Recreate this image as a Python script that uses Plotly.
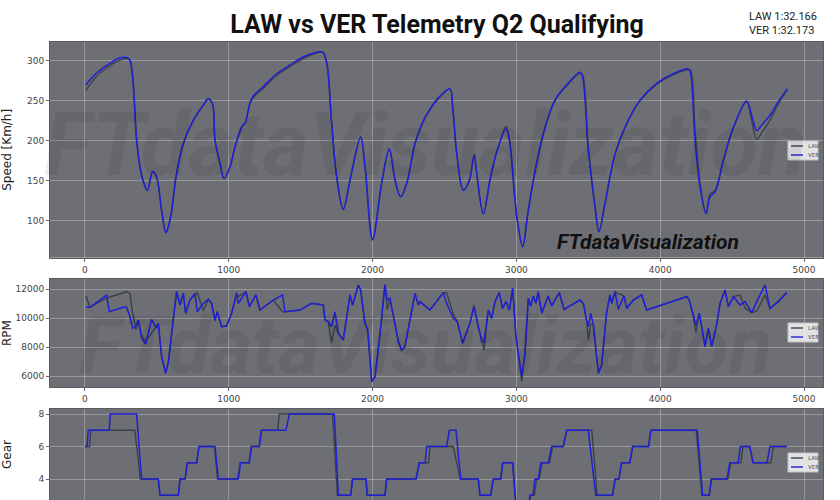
import plotly.graph_objects as go

# ---------------- data ----------------
speed_dist = [5, 81, 174, 243, 294, 313, 359, 378, 406, 434,
              471, 498, 533, 563, 596, 633, 684, 753, 823, 858,
              888, 904, 939, 967, 1008, 1043, 1096, 1113, 1159, 1240,
              1333, 1426, 1518, 1611, 1653, 1681, 1715, 1750, 1796, 1843,
              1917, 1947, 2000, 2063, 2116, 2156, 2195, 2237, 2295, 2340,
              2399, 2469, 2538, 2557, 2585, 2631, 2673, 2707, 2724, 2770,
              2816, 2863, 2928, 2951, 2990, 3006, 3044, 3076, 3118, 3187,
              3268, 3350, 3442, 3460, 3500, 3547, 3574, 3616, 3686, 3767,
              3860, 3976, 4091, 4196, 4212, 4242, 4277, 4319, 4346, 4381,
              4439, 4509, 4601, 4636, 4671, 4706, 4763, 4821, 4884]
ver_speed = [270, 285, 297, 304, 304, 301, 201, 172, 149, 138,
             162, 155, 113, 85, 105, 155, 197, 226, 245, 253,
             245, 201, 172, 153, 167, 192, 220, 222, 253, 268,
             284, 295, 305, 311, 311, 297, 222, 155, 114, 151,
             205, 168, 76, 147, 190, 151, 130, 147, 197, 220,
             240, 256, 265, 242, 184, 138, 151, 181, 159, 109,
             151, 186, 215, 201, 126, 101, 67, 105, 151, 209,
             251, 270, 286, 280, 188, 117, 86, 122, 184, 222,
             251, 272, 284, 290, 284, 201, 142, 109, 130, 136,
             176, 217, 250, 232, 213, 220, 232, 249, 265]
law_speed = [263, 281, 294, 301, 303, 301, 203, 172, 149, 138,
             161, 154, 113, 86, 105, 154, 196, 225, 244, 252,
             246, 203, 172, 153, 167, 192, 218, 222, 251, 266,
             282, 293, 303, 310, 311, 299, 225, 156, 115, 150,
             204, 170, 77, 146, 189, 152, 130, 146, 196, 219,
             239, 255, 265, 244, 186, 139, 150, 184, 160, 109,
             150, 186, 218, 203, 128, 101, 68, 104, 150, 208,
             250, 269, 285, 283, 192, 118, 87, 121, 183, 221,
             250, 271, 283, 289, 288, 215, 148, 110, 133, 138,
             174, 216, 249, 225, 202, 210, 226, 246, 264]

rpm_dist = [7, 35, 151, 169, 266, 290, 313, 331, 355, 371,
            394, 422, 464, 498, 510, 533, 561, 579, 603, 637,
            661, 684, 700, 730, 765, 781, 823, 858, 881, 904,
            920, 950, 985, 1020, 1055, 1066, 1120, 1143, 1189, 1217,
            1310, 1374, 1391, 1495, 1576, 1657, 1669, 1692, 1715, 1738,
            1762, 1796, 1843, 1861, 1901, 1917, 1947, 1966, 1994, 2017,
            2051, 2086, 2102, 2121, 2179, 2202, 2225, 2272, 2295, 2318,
            2330, 2399, 2492, 2515, 2561, 2589, 2626, 2677, 2705, 2735,
            2759, 2775, 2805, 2828, 2851, 2881, 2904, 2928, 2951, 2974,
            2997, 3037, 3060, 3083, 3099, 3118, 3136, 3152, 3176, 3222,
            3245, 3298, 3331, 3442, 3465, 3488, 3500, 3517, 3535, 3570,
            3593, 3628, 3651, 3663, 3686, 3709, 3748, 3767, 3813, 3871,
            3906, 4184, 4202, 4226, 4249, 4272, 4312, 4335, 4358, 4392,
            4416, 4451, 4474, 4509, 4555, 4590, 4636, 4671, 4694, 4729,
            4763, 4821, 4879]
ver_rpm = [10760, 10760, 11600, 10450, 10760, 10760, 10110, 9310, 9470, 9880,
           8620, 8230, 9930, 9310, 9650, 7350, 6210, 6900, 8970, 11830,
           10920, 11720, 10350, 11260, 11720, 10450, 11030, 11310, 11030, 9880,
           10450, 9420, 9470, 10350, 11770, 11030, 11830, 10800, 11610, 10570,
           11260, 11610, 10450, 10570, 11030, 10920, 9880, 9770, 9420, 10450,
           8970, 8500, 11610, 10920, 12300, 11950, 9650, 9190, 5630, 5970,
           8850, 12300, 11260, 11380, 8390, 7810, 8040, 10570, 11720, 10920,
           11150, 10570, 11770, 11030, 10000, 9770, 8280, 9650, 10800, 9420,
           8390, 8390, 10570, 10000, 11150, 11770, 10690, 11150, 10570, 12070,
           8730, 6020, 7590, 11380, 10850, 11540, 11030, 11830, 10350, 11540,
           10850, 11770, 10620, 11260, 11030, 9880, 9420, 10350, 9540, 6210,
           6780, 10450, 11610, 11030, 11830, 10620, 11540, 10690, 11260, 11610,
           10570, 11490, 11260, 10350, 9540, 10350, 8040, 9310, 8040, 9540,
           11030, 11950, 10800, 11490, 10920, 11150, 10390, 11150, 11610, 12300,
           10690, 11150, 11770]
law_rpm = [11540, 10760, 11400, 11450, 11750, 11830, 11700, 10400, 9200, 9880,
           8900, 8400, 9000, 9500, 9650, 7350, 6250, 6900, 8970, 11830,
           10920, 11720, 10350, 11260, 11600, 11800, 10500, 11310, 11030, 9800,
           10450, 9420, 9470, 10350, 11600, 11500, 11830, 10800, 11610, 10570,
           11260, 10450, 10450, 10570, 11030, 10920, 9880, 9770, 8300, 9500,
           8970, 8500, 11610, 10920, 12300, 11950, 9650, 9190, 5630, 5970,
           8850, 12300, 10600, 11380, 8390, 7810, 8040, 10570, 11720, 10920,
           11150, 10570, 11770, 11750, 10300, 9770, 8280, 9650, 10900, 9420,
           8600, 7800, 10570, 10000, 11150, 11770, 10690, 11150, 10570, 12070,
           8730, 5650, 7590, 11380, 10850, 11540, 11030, 11830, 10350, 11540,
           10850, 11770, 10620, 11260, 11030, 9880, 8500, 9600, 9540, 6210,
           6780, 10450, 11610, 11030, 11830, 11700, 11540, 10690, 11260, 11610,
           10570, 11490, 11260, 10350, 9000, 10350, 8040, 9310, 8040, 9540,
           11030, 11950, 10800, 11490, 11600, 10700, 10390, 10500, 10900, 11600,
           10690, 11150, 11770]

ver_gear_dist = [0, 15, 23, 169, 176, 359, 394, 510, 522, 649, 661, 696, 712, 777, 793, 904, 927,
                 1066, 1083, 1143, 1159, 1213, 1229, 1398, 1421, 1734, 1762, 1848, 1861, 1954, 1963,
                 2086, 2098, 2302, 2325, 2366, 2376, 2515, 2534, 2580, 2613, 2735, 2747, 2821, 2840,
                 2891, 2905, 2974, 3000, 3080, 3094, 3115, 3129, 3152, 3170, 3222, 3245, 3326, 3350,
                 3500, 3552, 3668, 3687, 3713, 3731, 3789, 3808, 3919, 3935, 4258, 4295, 4341, 4356,
                 4465, 4484, 4542, 4558, 4623, 4646, 4743, 4763, 4879]
ver_gear = [6, 6, 7, 7, 8, 8, 4, 4, 3, 3, 4, 4, 5, 5, 6, 6, 4,
            4, 5, 5, 6, 6, 7, 7, 8, 8, 3, 3, 4, 4, 3,
            3, 4, 4, 5, 5, 6, 6, 7, 7, 4, 4, 3, 3, 4,
            4, 5, 5, 2, 2, 3, 3, 4, 4, 5, 5, 6, 6, 7,
            7, 3, 3, 4, 4, 5, 5, 6, 6, 7, 7, 3, 3, 4,
            4, 5, 5, 6, 6, 5, 5, 6, 6]
law_gear_dist = [0, 33, 40, 347, 385, 510, 522, 649, 661, 696, 712, 777, 793, 900, 922,
                 1062, 1078, 1140, 1156, 1210, 1226, 1340, 1351, 1722, 1755, 1848, 1861, 1954, 1963,
                 2086, 2098, 2302, 2325, 2390, 2399, 2561, 2610, 2735, 2747, 2821, 2840,
                 2891, 2905, 2974, 3000, 3080, 3100, 3125, 3140, 3160, 3178, 3230, 3252, 3326, 3350,
                 3524, 3562, 3668, 3687, 3713, 3731, 3789, 3808, 3919, 3935, 4250, 4290, 4341, 4356,
                 4470, 4490, 4560, 4576, 4623, 4646, 4770, 4786, 4879]
law_gear = [6, 6, 7, 7, 4, 4, 3, 3, 4, 4, 5, 5, 6, 6, 4,
            4, 5, 5, 6, 6, 7, 7, 8, 8, 3, 3, 4, 4, 3,
            3, 4, 4, 5, 5, 6, 6, 4, 4, 3, 3, 4,
            4, 5, 5, 2, 2, 3, 3, 4, 4, 5, 5, 6, 6, 7,
            7, 3, 3, 4, 4, 5, 5, 6, 6, 7, 7, 3, 3, 4,
            4, 5, 5, 6, 6, 5, 5, 6, 6]

speed_ticks = [100, 150, 200, 250, 300]
rpm_ticks = [6000, 8000, 10000, 12000]
gear_ticks = [2, 4, 6, 8]
dist_ticks = [0, 1000, 2000, 3000, 4000, 5000]

drivers = ["LAW", "VER"]
title_text = "LAW vs VER Telemetry Q2 Qualifying"
laptimes = ["LAW 1:32.166", "VER 1:32.173"]
watermark = "FTdataVisualization"

# ---------------- figure ----------------
W, H = 840, 500
ML, MR, MT, MB = 50, 17, 42, 0
PW, PH = W - ML - MR, H - MT - MB

def px_x(px):
    return (px - ML) / PW

def px_y(py):
    return (H - MB - py) / PH

BG = "#6d6f75"
GRID = "rgba(255,255,255,0.28)"
COLORS = {"LAW": "#3b4149", "VER": "#1f1fd4"}
TICKFONT = dict(family="DejaVu Sans", size=9, color="#444")

fig = go.Figure()

def add_pair(x_law, y_law, x_ver, y_ver, xa, ya, shape="linear"):
    fig.add_trace(go.Scatter(x=x_law, y=y_law, name="LAW", mode="lines", showlegend=False,
                             line=dict(color=COLORS["LAW"], width=1.4, shape=shape),
                             xaxis=xa, yaxis=ya))
    fig.add_trace(go.Scatter(x=x_ver, y=y_ver, name="VER", mode="lines", showlegend=False,
                             line=dict(color=COLORS["VER"], width=1.5, shape=shape),
                             xaxis=xa, yaxis=ya))

add_pair(speed_dist, law_speed, speed_dist, ver_speed, "x", "y", "spline")
add_pair(rpm_dist, law_rpm, rpm_dist, ver_rpm, "x2", "y2")
add_pair(law_gear_dist, law_gear, ver_gear_dist, ver_gear, "x3", "y3")

XR = [-243, 5132]
xcommon = dict(range=XR, tickvals=dist_ticks, showgrid=True, gridcolor=GRID, gridwidth=1,
               zeroline=False, ticks="outside", ticklen=3, tickcolor="#666", automargin=False,
               tickfont=TICKFONT, showline=True, linecolor="#5a5c60", mirror=True)
ycommon = dict(showgrid=True, gridcolor=GRID, gridwidth=1, zeroline=False, automargin=False,
               ticks="outside", ticklen=3, tickcolor="#666", tickfont=TICKFONT,
               showline=True, linecolor="#5a5c60", mirror=True, tickformat="d")
TITLEFONT = dict(family="DejaVu Sans", size=12, color="#222")

fig.update_layout(
    width=W, height=H,
    margin=dict(l=ML, r=MR, t=MT, b=MB),
    paper_bgcolor="white", plot_bgcolor=BG,
    title=dict(text="<b>" + title_text + "</b>", x=437 / W, xref="container", xanchor="center",
               y=1 - 24 / H, yref="container", yanchor="middle",
               font=dict(family="Roboto", size=25, color="#111")),
    xaxis=dict(domain=[0, 1], anchor="y", **xcommon),
    yaxis=dict(domain=[px_y(257.7), 1.0], anchor="x", range=[53.75, 323.75], tickvals=speed_ticks,
               title=dict(text="Speed [Km/h]", font=TITLEFONT, standoff=14), **ycommon),
    xaxis2=dict(domain=[0, 1], anchor="y2", **xcommon),
    yaxis2=dict(domain=[px_y(387.3), px_y(279)], anchor="x2", range=[5240, 12710], tickvals=rpm_ticks,
                title=dict(text="RPM", font=TITLEFONT, standoff=12), **ycommon),
    xaxis3=dict(domain=[0, 1], anchor="y3", showticklabels=False, **xcommon),
    yaxis3=dict(domain=[0, px_y(409)], anchor="x3", range=[2.71, 8.31], tickvals=gear_ticks,
                title=dict(text="Gear", font=TITLEFONT, standoff=24), **ycommon),
)

# compact per-panel legends (box top in px)
def add_legend(top):
    fig.add_shape(type="rect", xref="paper", yref="paper", x0=px_x(788), x1=px_x(818),
                  y0=px_y(top), y1=px_y(top + 19), fillcolor="rgba(236,236,238,0.92)",
                  line=dict(color="#c4c4c4", width=1), layer="above")
    for i, drv in enumerate(drivers):
        yy = top + 5 + i * 9
        fig.add_shape(type="line", xref="paper", yref="paper", x0=px_x(791), x1=px_x(803),
                      y0=px_y(yy), y1=px_y(yy), line=dict(color=COLORS[drv], width=1.4), layer="above")
        fig.add_annotation(text=drv, xref="paper", yref="paper", x=px_x(805.5), y=px_y(yy),
                           xanchor="left", yanchor="middle", showarrow=False,
                           font=dict(family="DejaVu Sans", size=5.5, color="#555"))

add_legend(141)
add_legend(323)
add_legend(453)

# watermarks & texts
fig.add_annotation(text=watermark, xref="paper", yref="paper", x=px_x(425), y=px_y(144),
                   showarrow=False, xanchor="center", yanchor="middle",
                   font=dict(family="Roboto", size=88, weight="bold", style="italic",
                             color="rgba(0,0,0,0.07)"))
fig.add_annotation(text=watermark, xref="paper", yref="paper", x=px_x(425), y=px_y(297),
                   showarrow=False, xanchor="center", yanchor="top",
                   font=dict(family="Roboto", size=80, weight="bold", style="italic",
                             color="rgba(0,0,0,0.07)"))
fig.add_annotation(text=watermark, xref="paper", yref="paper", x=px_x(647.5), y=px_y(242),
                   showarrow=False, xanchor="center", yanchor="middle",
                   font=dict(family="Roboto", size=21, weight="bold", style="italic", color="#111"))
fig.add_annotation(text="<br>".join(laptimes), xref="paper", yref="paper", x=px_x(747),
                   y=px_y(8), showarrow=False, xanchor="left", yanchor="top", align="left",
                   font=dict(family="Roboto", size=11, color="#222"))

fig.write_html("out.html")
